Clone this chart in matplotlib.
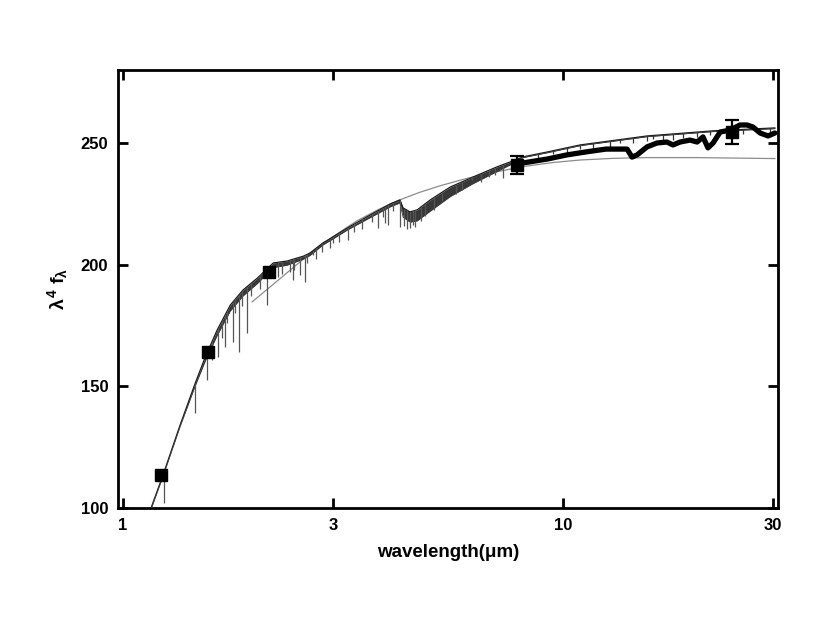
import numpy as np
import matplotlib
matplotlib.use("Agg")
import matplotlib.pyplot as plt

plt.rcParams['font.family'] = ['Liberation Sans', 'DejaVu Sans']
plt.rcParams['font.weight'] = 'bold'
plt.rcParams['mathtext.fontset'] = 'custom'
plt.rcParams['mathtext.rm'] = 'Liberation Sans:bold'
plt.rcParams['mathtext.it'] = 'Liberation Sans:bold'
plt.rcParams['mathtext.bf'] = 'Liberation Sans:bold'

# ---- data ----
# model photospheric spectrum: upper envelope (wavelength in micron, lambda^4 f_lambda)
spec_wl = [1.16, 1.233, 1.348, 1.457, 1.538, 1.637, 1.753, 1.874, 2.02, 2.195,
           2.36, 2.57, 2.66, 2.85, 3.0, 3.23, 3.58, 4.05, 4.26, 4.33, 4.49, 4.66,
           4.99, 5.54, 6.24, 7.08, 7.58, 8.11, 9.20, 10.93, 15.52, 21.93, 30.3]
spec_hi = [100.4, 113.6, 134.1, 151.0, 162.1, 173.2, 183.4, 189.6, 194.5, 200.7,
           201.5, 203.5, 204.8, 209.0, 211.4, 215.0, 219.6, 225.0, 226.6, 223.3, 221.7, 222.5,
           226.6, 231.9, 236.0, 240.2, 242.2, 244.3, 246.3, 249.2, 252.9, 255.0, 256.2]
# lower edge of the dense forest of absorption lines
spec_lo = [100.0, 113.2, 133.6, 150.0, 160.5, 171.0, 181.0, 187.2, 192.3, 198.8,
           199.8, 202.3, 203.8, 208.2, 210.6, 214.2, 218.6, 223.8, 225.4, 219.5, 217.5, 218.0,
           222.0, 228.0, 233.3, 238.3, 241.0, 244.0, 246.0, 248.9, 252.6, 254.7, 255.9]

# absorption lines: wavelength and bottom of the line
line_wl = [1.24, 1.457, 1.552, 1.593, 1.644, 1.68, 1.706, 1.72, 1.778, 1.80,
           1.835, 1.86, 1.914, 1.95, 2.05, 2.125, 2.25, 2.30, 2.40, 2.434,
           2.45, 2.525, 2.59, 2.62, 2.70, 2.75, 2.833, 2.95, 3.0, 3.1,
           3.246, 3.35, 3.5, 3.68, 3.80, 3.90, 3.94, 4.0, 4.1, 4.26,
           4.36, 4.42, 4.49, 4.55, 4.61, 4.75, 4.85, 5.1, 5.3, 5.7,
           5.9, 6.21, 6.5, 6.8, 7.0, 7.31]
line_lo = [102.0, 139.0, 152.6, 160.8, 162.1, 170.0, 166.2, 176.0, 168.2, 180.0,
           164.1, 183.0, 171.9, 187.0, 190.0, 183.4, 195.0, 196.0, 197.0, 193.7,
           198.0, 195.8, 192.9, 200.5, 204.0, 202.5, 205.2, 207.0, 208.9, 209.5,
           210.2, 213.5, 214.5, 217.5, 215.1, 219.5, 217.1, 216.3, 222.0, 215.5,
           216.0, 214.5, 215.1, 216.5, 215.5, 218.0, 220.0, 222.5, 226.0, 229.0,
           230.5, 234.8, 234.0, 236.0, 237.0, 235.6]

# weak lines on the long-wavelength model continuum
tick_wl = [8.77, 9.49, 10.2, 10.93, 11.7, 12.8, 13.5, 14.4, 15.5, 16.0,
           16.9, 17.8, 18.7, 20.2, 21.6, 23.6, 25.6, 28.0, 29.5]
tick_depth = [2.0, 1.5, 2.0, 1.5, 2.0, 2.5, 1.5, 2.0, 2.0, 1.5,
              2.0, 2.5, 2.0, 2.0, 1.5, 2.0, 2.0, 1.5, 2.0]

# smooth grey (blackbody-like) curve
bb_wl = [1.965, 2.3, 2.62, 3.0, 3.4, 3.8, 4.2, 4.7, 5.25, 6.0,
         6.82, 8.11, 9.5, 10.93, 13.0, 15.52, 20.0, 30.3]
bb_val = [184.7, 195.0, 203.6, 211.5, 218.0, 222.6, 226.2, 229.6, 232.4, 235.3,
          237.6, 240.3, 242.0, 243.0, 243.7, 244.0, 244.0, 243.6]

# observed mid-IR spectrum (thick line)
irs_wl = [8.11, 9.20, 10.2, 11.34, 12.52, 13.98, 14.35, 14.73, 15.52, 16.35,
          17.22, 17.78, 18.45, 19.44, 20.17, 20.8, 21.35, 21.93, 22.75, 23.96,
          25.24, 26.18, 27.0, 28.05, 29.24, 30.3]
irs_val = [241.8, 243.4, 245.1, 246.4, 247.5, 247.5, 244.2, 245.1, 248.4, 250.0,
           250.4, 249.2, 250.4, 251.2, 250.4, 252.5, 248.0, 250.0, 254.5, 255.3,
           257.4, 257.4, 256.6, 254.1, 252.9, 254.1]

# photometry
phot_wl = [1.22, 1.56, 2.15, 7.86, 24.2]
phot_val = [113.6, 164.1, 197.0, 241.0, 254.5]
phot_err = [0.0, 0.0, 0.0, 3.7, 4.9]

xticks = [1, 3, 10, 30]
yticks = [100, 150, 200, 250]

# ---- figure ----
fig = plt.figure(figsize=(8.30, 6.24), dpi=100)
ax = fig.add_axes([118 / 830, 1 - 508 / 624, (778 - 118) / 830, (508 - 70) / 624])
ax.set_xscale('log')

ax.plot(bb_wl, bb_val, color='#8c8c8c', lw=0.9, zorder=2)
ax.fill_between(spec_wl, spec_lo, spec_hi, color='#383838', lw=0, zorder=3)
ax.plot(spec_wl, spec_hi, color='#1a1a1a', lw=0.9, zorder=3)
ax.plot(spec_wl, spec_lo, color='#3a3a3a', lw=0.6, zorder=3)

lw_log = np.log10(spec_wl)
line_top = np.interp(np.log10(line_wl), lw_log, spec_hi)
ax.vlines(line_wl, line_lo, line_top, color='#555555', lw=0.9, zorder=3)
tick_top = np.interp(np.log10(tick_wl), lw_log, spec_hi)
ax.vlines(tick_wl, tick_top - np.array(tick_depth), tick_top, color='#333333', lw=0.9, zorder=3)

ax.plot(irs_wl, irs_val, color='black', lw=3.8, solid_joinstyle='round',
        solid_capstyle='round', zorder=5)

ax.plot(phot_wl, phot_val, 's', color='black', ms=8.8, zorder=6)
ax.errorbar(phot_wl[3:], phot_val[3:], yerr=phot_err[3:], fmt='none',
            ecolor='black', elinewidth=1.6, capsize=4.8, capthick=1.6, zorder=6)

ax.set_xlim(0.974, 30.8)
ax.set_ylim(100, 280)
ax.set_xticks(xticks)
ax.set_xticklabels([str(t) for t in xticks])
ax.xaxis.set_minor_locator(matplotlib.ticker.NullLocator())
ax.set_yticks(yticks)

for s in ax.spines.values():
    s.set_linewidth(2.0)
ax.tick_params(axis='both', which='major', direction='in', length=7, width=2.0,
               top=True, right=True, labelsize=12, pad=7)
for lab in ax.get_xticklabels() + ax.get_yticklabels():
    lab.set_fontweight('bold')

ax.set_xlabel('wavelength(\u03bcm)', fontsize=13.5, fontweight='bold', labelpad=8)
ax.set_ylabel(r'$\lambda^4\ f_\lambda$', fontsize=14, labelpad=8)

fig.savefig('out.png', dpi=100)
